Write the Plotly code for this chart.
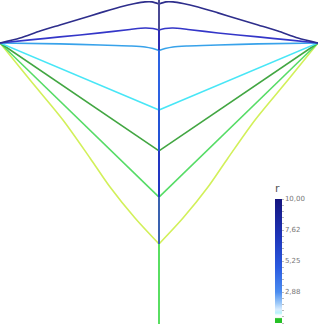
import plotly.graph_objects as go

# ---- data (x: horizontal position, y: height; left half, mirrored for right) ----
r_values = [10.0, 7.6, 2.9, 1.2, 0.45, 0.35, 0.25]
curve_colors = ["#2e2e8c", "#3436c8", "#38a2ea", "#48e6f6", "#42a642", "#56dc66", "#d2f05a"]

navy_x = [-1.0, -0.874, -0.748, -0.623, -0.497, -0.371, -0.245, -0.151, -0.088, -0.044, 0.0]
navy_y = [0.0, 0.031, 0.075, 0.113, 0.151, 0.189, 0.226, 0.248, 0.258, 0.258, 0.245]
blue_x = [-1.0, -0.811, -0.623, -0.371, -0.182, -0.088, -0.038, 0.0]
blue_y = [0.0, 0.019, 0.038, 0.063, 0.085, 0.094, 0.091, 0.082]
lblue_x = [-1.0, -0.623, -0.371, -0.182, -0.088, -0.038, 0.0]
lblue_y = [0.0, -0.006, -0.013, -0.019, -0.025, -0.035, -0.047]
cyan_x = [-1.0, 0.0]
cyan_y = [0.0, -0.421]
dgreen_x = [-1.0, 0.0]
dgreen_y = [0.0, -0.679]
lgreen_x = [-1.0, 0.0]
lgreen_y = [0.0, -0.969]
yellow_x = [-1.0, -0.811, -0.604, -0.434, -0.308, -0.151, 0.0]
yellow_y = [0.0, -0.233, -0.484, -0.723, -0.906, -1.101, -1.264]

curves_x = [navy_x, blue_x, lblue_x, cyan_x, dgreen_x, lgreen_x, yellow_x]
curves_y = [navy_y, blue_y, lblue_y, cyan_y, dgreen_y, lgreen_y, yellow_y]

# central vertical line: breakpoints (heights) and segment colours
spine_y = [0.270, 0.082, -0.047, -0.421, -0.679, -0.969, -1.264, -1.767]
spine_colors = ["#4a4a94", "#2c2cb4", "#2d62e2", "#2454d6", "#2236c2", "#3a62b0", "#5ade62"]

cbar_ticks = [0.5, 2.875, 5.25, 7.625, 10.0]
cbar_labels = ["0,50", "2,88", "5,25", "7,62", "10,00"]

colorscale = [
    [0.0, "#26c026"], [0.035, "#26c026"], [0.045, "#ffffff"], [0.065, "#f4fcff"],
    [0.08, "#b8f2fa"], [0.11, "#d8ecff"], [0.16, "#9cc8f8"], [0.25, "#4a8cf0"],
    [0.45, "#2a5ae0"], [0.7, "#1e34b8"], [1.0, "#14147e"],
]

fig = go.Figure()

# curves (draw low r first); each half is a separate smooth segment (sharp centre)
for cx, cy, col in reversed(list(zip(curves_x, curves_y, curve_colors))):
    xs = cx + [None] + [-v for v in reversed(cx)]
    ys = cy + [None] + list(reversed(cy))
    fig.add_trace(go.Scatter(x=xs, y=ys, mode="lines", connectgaps=False,
                             line=dict(color=col, width=1.6, shape="spline", smoothing=0.8),
                             hoverinfo="skip", showlegend=False))

# spine
for i, col in enumerate(spine_colors):
    fig.add_trace(go.Scatter(x=[0, 0], y=[spine_y[i], spine_y[i + 1]], mode="lines",
                             line=dict(color=col, width=2), hoverinfo="skip", showlegend=False))

# colour bar (dummy point outside the visible range)
minor_vals = [0.5 + 0.475 * k for k in range(21)]
minor_text = []
for v in minor_vals:
    lab = ""
    for t, l in zip(cbar_ticks, cbar_labels):
        if abs(v - t) < 0.01:
            lab = l
    minor_text.append(lab)

fig.add_trace(go.Scatter(
    x=[5], y=[5], mode="markers", hoverinfo="skip", showlegend=False,
    marker=dict(color=[0.5], cmin=0.5, cmax=10, colorscale=colorscale, showscale=True,
                colorbar=dict(
                    x=275 / 318, xanchor="left", y=1 - 252 / 324, yanchor="middle",
                    len=142 / 324, lenmode="fraction", thickness=7, thicknessmode="pixels",
                    xpad=0, ypad=0, outlinewidth=0,
                    tickmode="array", tickvals=minor_vals, ticktext=minor_text,
                    ticks="outside", ticklen=2, tickwidth=1, tickcolor="#bbbbbb",
                    tickfont=dict(size=7, color="#777777", family="DejaVu Sans"),
                    title=dict(text="r", side="top", font=dict(size=11, color="#555555", family="DejaVu Sans")),
                ))))

fig.update_layout(
    width=318, height=324,
    margin=dict(l=0, r=0, t=0, b=0, autoexpand=False),
    paper_bgcolor="white", plot_bgcolor="white",
    xaxis=dict(range=[-1, 1], visible=False, fixedrange=True),
    yaxis=dict(range=[-1.767, 0.270], visible=False, fixedrange=True),
)

fig.write_html("out.html")
